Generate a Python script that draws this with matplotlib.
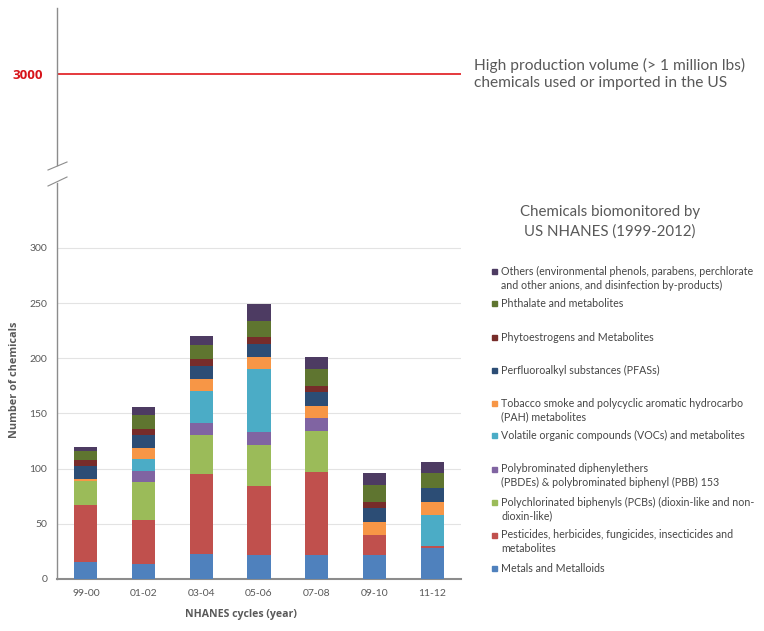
import matplotlib
matplotlib.use("Agg")
import matplotlib.pyplot as plt
from matplotlib.lines import Line2D
from matplotlib.patches import Rectangle
import numpy as np

plt.rcParams['font.family'] = ['Lato', 'DejaVu Sans']

cycles = ["99-00", "01-02", "03-04", "05-06", "07-08", "09-10", "11-12"]

metals       = [15, 14, 23, 22, 22, 22, 28]
pesticides   = [52, 39, 72, 62, 75, 18, 2]
pcbs         = [22, 35, 35, 37, 37, 0, 0]
pbdes        = [0, 10, 11, 12, 12, 0, 0]
vocs         = [0, 11, 29, 57, 0, 0, 28]
tobacco      = [2, 10, 11, 11, 11, 12, 12]
pfas         = [11, 11, 12, 12, 12, 12, 12]
phyto        = [6, 6, 6, 6, 6, 6, 0]
phthalates   = [8, 13, 13, 15, 15, 15, 14]
others       = [4, 7, 8, 15, 11, 11, 10]

hpv_value = 3000

series = [
    ("Metals and Metalloids", metals, "#4F81BD"),
    ("Pesticides, herbicides, fungicides, insecticides and\nmetabolites", pesticides, "#C0504D"),
    ("Polychlorinated biphenyls (PCBs) (dioxin-like and non-\ndioxin-like)", pcbs, "#9BBB59"),
    ("Polybrominated diphenylethers\n(PBDEs) & polybrominated biphenyl (PBB) 153", pbdes, "#8064A2"),
    ("Volatile organic compounds (VOCs) and metabolites", vocs, "#4BACC6"),
    ("Tobacco smoke and polycyclic aromatic hydrocarbo\n(PAH) metabolites", tobacco, "#F79646"),
    ("Perfluoroalkyl substances (PFASs)", pfas, "#2C4D75"),
    ("Phytoestrogens and Metabolites", phyto, "#772C2A"),
    ("Phthalate and metabolites", phthalates, "#5F7530"),
    ("Others (environmental phenols, parabens, perchlorate\nand other anions, and disinfection by-products)", others, "#4D3B62"),
]

W, H = 764, 631
fig = plt.figure(figsize=(W / 100, H / 100), dpi=100)

def fx(px):
    return px / W

def fy(py):
    return 1 - py / H

txt_col = "#595959"
spine_col = "#8C8C8C"
bold_font = ['Open Sans', 'DejaVu Sans']

# Lower axes
ax = fig.add_axes([fx(57), fy(579), fx(461) - fx(57), fy(183) - fy(579)])
x = np.arange(len(cycles))
bottom = np.zeros(len(cycles))
for name, vals, col in series:
    v = np.array(vals, dtype=float)
    ax.bar(x, v, bottom=bottom, width=0.4, color=col, zorder=3)
    bottom += v
ax.set_xlim(-0.5, len(cycles) - 0.5)
ax.set_ylim(0, 358.7)
ax.set_yticks([0, 50, 100, 150, 200, 250, 300])
ax.set_xticks(x)
ax.set_xticklabels(cycles)
ax.tick_params(axis='both', length=0, labelsize=7.5, colors=txt_col)
ax.tick_params(axis='y', pad=7)
ax.tick_params(axis='x', pad=7)
ax.yaxis.grid(True, color="#E3E3E3", lw=0.8, zorder=0)
for s in ["top", "right"]:
    ax.spines[s].set_visible(False)
ax.spines["left"].set_color(spine_col)
ax.spines["left"].set_linewidth(1.0)
ax.spines["bottom"].set_color(spine_col)
ax.spines["bottom"].set_linewidth(1.5)
ax.set_ylabel("Number of chemicals", fontsize=7.8, color=txt_col, fontweight='bold', family=bold_font)
ax.set_xlabel("NHANES cycles (year)", fontsize=7.6, color=txt_col, fontweight='bold', family=bold_font)
ax.yaxis.set_label_coords((20 - 57) / 404, (579 - 380) / 396)
ax.xaxis.set_label_coords((241 - 57) / 404, -(609 - 579) / 396)

# Upper axes
ax2 = fig.add_axes([fx(57), fy(165), fx(461) - fx(57), fy(8) - fy(165)])
ax2.set_ylim(2000, 3724)
ax2.set_xlim(0, 1)
ax2.axhline(hpv_value, color="#E0161B", lw=1.2)
ax2.set_yticks([hpv_value])
ax2.set_yticklabels([str(hpv_value)])
ax2.tick_params(axis='y', length=0, colors="#D7141A", pad=10)
for lbl in ax2.get_yticklabels():
    lbl.set_fontweight('bold')
    lbl.set_family(bold_font)
    lbl.set_fontsize(9.6)
ax2.set_xticks([])
for s in ["top", "right", "bottom"]:
    ax2.spines[s].set_visible(False)
ax2.spines["left"].set_color(spine_col)
ax2.spines["left"].set_linewidth(1.0)
ax2.patch.set_alpha(0)

# Break marks
for (x0, y0, x1, y1) in [(48, 170, 67, 162), (48, 186, 67, 177)]:
    fig.add_artist(Line2D([fx(x0), fx(x1)], [fy(y0), fy(y1)], color=spine_col, lw=0.8))

fig.text(fx(474), fy(74), "High production volume (> 1 million lbs)\nchemicals used or imported in the US",
         fontsize=11.2, color=txt_col, ha='left', va='center', linespacing=1.3)

fig.text(fx(610), fy(222), "Chemicals biomonitored by\nUS NHANES (1999-2012)",
         fontsize=10.8, color=txt_col, ha='center', va='center', linespacing=1.45)

# Legend
legend_y = [568.3, 541.7, 509.3, 475.8, 435.7, 410, 370, 337.3, 303.3, 278.3]
for (name, vals, col), yy in zip(series, legend_y):
    nlines = name.count("\n") + 1
    ytop = yy - (nlines - 1) * 13.3 / 2
    fig.add_artist(Rectangle((fx(492), fy(ytop + 2.5)), fx(5), fy(0) - fy(5), color=col,
                             transform=fig.transFigure))
    fig.text(fx(501), fy(yy), name, fontsize=7.65, color="#454545", ha='left', va='center',
             linespacing=1.3)

fig.savefig("out.png", dpi=100)
